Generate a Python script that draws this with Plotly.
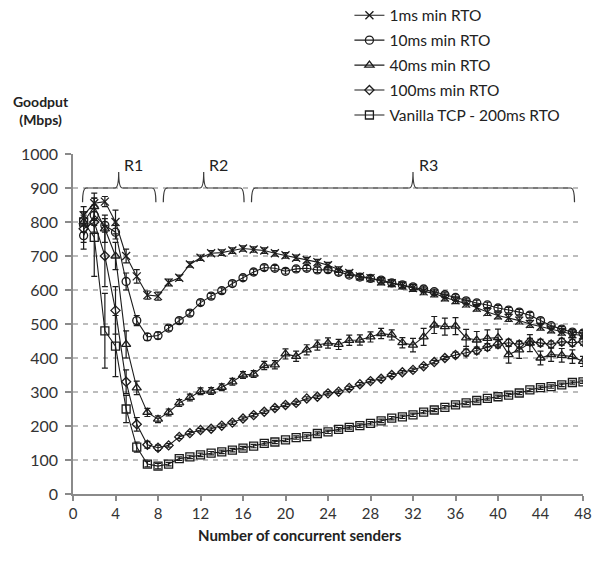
import plotly.graph_objects as go

senders = list(range(1, 49))

rto_1ms = [820, 855, 860, 800, 700, 640, 585, 582, 622, 636, 675, 695, 708, 710, 716, 722,
           719, 716, 708, 702, 695, 688, 682, 673, 660, 650, 640, 635, 625, 620, 613, 606,
           596, 590, 578, 570, 560, 548, 535, 525, 518, 510, 500, 492, 484, 477, 470, 466]
err_1ms = [25, 15, 15, 35, 20, 20, 12, 12, 10, 8, 8, 8, 8, 8, 8, 8,
           8, 8, 8, 8, 8, 8, 8, 8, 8, 8, 8, 8, 10, 10, 10, 10,
           10, 10, 10, 10, 10, 10, 10, 10, 10, 10, 10, 10, 10, 10, 10, 10]

rto_10ms = [760, 820, 790, 770, 625, 510, 462, 466, 488, 510, 532, 563, 582, 598, 619, 636,
            653, 666, 664, 655, 662, 664, 659, 660, 652, 644, 638, 634, 629, 621, 615, 609,
            603, 595, 586, 578, 568, 562, 556, 547, 541, 535, 526, 510, 495, 485, 476, 473]
err_10ms = [40, 30, 20, 20, 25, 15, 10, 10, 8, 8, 8, 8, 8, 8, 8, 8,
            8, 8, 8, 8, 8, 8, 8, 8, 8, 8, 8, 8, 8, 8, 8, 8,
            8, 8, 8, 8, 8, 8, 8, 8, 8, 8, 8, 8, 8, 8, 8, 8]

rto_40ms = [800, 845, 780, 700, 440, 312, 240, 220, 240, 268, 284, 302, 303, 314, 330, 350,
            353, 378, 380, 412, 405, 424, 438, 444, 440, 452, 453, 462, 472, 468, 445, 438,
            462, 497, 492, 494, 459, 453, 458, 460, 410, 424, 444, 400, 410, 408, 404, 390]
err_40ms = [30, 40, 40, 40, 40, 20, 12, 10, 10, 10, 10, 10, 10, 10, 10, 10,
            10, 12, 12, 15, 15, 15, 15, 15, 15, 15, 15, 15, 15, 15, 15, 20,
            25, 25, 25, 25, 25, 25, 25, 25, 25, 25, 25, 20, 20, 20, 20, 15]

rto_100ms = [780, 800, 700, 540, 330, 205, 145, 136, 143, 168, 179, 188, 192, 201, 210, 222,
             232, 242, 253, 262, 268, 281, 286, 296, 301, 312, 323, 332, 339, 350, 358, 365,
             376, 388, 400, 409, 416, 422, 432, 440, 445, 440, 448, 445, 440, 448, 445, 448]
err_100ms = [40, 30, 90, 70, 35, 20, 10, 8, 5, 5, 5, 5, 5, 5, 5, 5,
             5, 5, 5, 5, 5, 5, 5, 5, 5, 5, 5, 5, 5, 5, 5, 5,
             5, 5, 5, 8, 10, 10, 10, 10, 10, 10, 10, 10, 10, 10, 10, 10]

vanilla = [800, 755, 480, 435, 250, 138, 88, 82, 88, 104, 109, 115, 120, 124, 129, 135,
           141, 149, 153, 159, 166, 169, 178, 183, 190, 196, 201, 208, 215, 223, 227, 233,
           241, 247, 255, 262, 268, 275, 281, 286, 291, 297, 306, 313, 316, 321, 328, 330]
err_vanilla = [30, 115, 110, 90, 40, 15, 8, 8, 5, 5, 5, 5, 5, 5, 5, 5,
               5, 5, 5, 5, 5, 5, 5, 5, 5, 5, 5, 5, 5, 5, 5, 5,
               5, 5, 5, 5, 5, 5, 5, 5, 5, 5, 5, 5, 5, 5, 5, 5]

series_names = ["1ms min RTO", "10ms min RTO", "40ms min RTO", "100ms min RTO",
                "Vanilla TCP - 200ms RTO"]
series_values = [rto_1ms, rto_10ms, rto_40ms, rto_100ms, vanilla]
series_errors = [err_1ms, err_10ms, err_40ms, err_100ms, err_vanilla]
symbols = ["x-thin-open", "circle-open", "triangle-up-open", "diamond-open", "square-open"]
sizes = [8, 8, 8, 7, 8]

grid_values = [100, 200, 300, 400, 500, 600, 700, 800, 900]

# regions: (label, start, end, center)
regions = [("R1", 0.9, 7.8, 4.3), ("R2", 8.5, 16.1, 12.3), ("R3", 16.8, 47.2, 32.0)]
brace_top, brace_end, brace_tip, label_y = 900, 858, 947, 968

INK = "#1c1c1c"
FONT = "Lato"

fig = go.Figure()

for name, vals, errs, sym, sz in zip(series_names, series_values, series_errors, symbols, sizes):
    fig.add_trace(go.Scatter(
        x=senders, y=vals, name=name, mode="lines+markers",
        line=dict(color=INK, width=1.1),
        marker=dict(symbol=sym, size=sz, color=INK, line=dict(color=INK, width=1.3)),
        error_y=dict(type="data", array=errs, visible=True, color=INK, thickness=1.2, width=3),
        legendgroup=name,
    ))

shapes = []
for g in grid_values:
    shapes.append(dict(type="line", xref="x", yref="y", x0=0, x1=47.8, y0=g, y1=g,
                       line=dict(color="#a6a6a6", width=1.6, dash="5px,5px"), layer="below"))

annotations = []
for label, x0, x1, xc in regions:
    d = 0.35
    path = (f"M {x0},{brace_end} Q {x0},{brace_top} {x0 + d},{brace_top} "
            f"L {xc - d},{brace_top} Q {xc},{brace_top} {xc},{brace_tip} "
            f"Q {xc},{brace_top} {xc + d},{brace_top} "
            f"L {x1 - d},{brace_top} Q {x1},{brace_top} {x1},{brace_end}")
    shapes.append(dict(type="path", xref="x", yref="y", path=path,
                       line=dict(color="#3a3a3a", width=1.2)))
    annotations.append(dict(x=xc + 0.35, y=label_y, xref="x", yref="y", text=label,
                            showarrow=False, xanchor="left", yanchor="middle",
                            font=dict(family=FONT, size=16, color="#222")))

annotations.append(dict(x=-0.063, y=1.129, xref="paper", yref="paper",
                        text="<b>Goodput</b><br><b>(Mbps)</b>", showarrow=False,
                        xanchor="center", yanchor="middle", align="center",
                        font=dict(family=FONT, size=14, color="#222")))
annotations.append(dict(x=0.445, y=-0.12, xref="paper", yref="paper",
                        text="<b>Number of concurrent senders</b>", showarrow=False,
                        xanchor="center", yanchor="middle",
                        font=dict(family=FONT, size=15, color="#222")))

fig.update_layout(
    width=602, height=571,
    margin=dict(l=73, r=19, t=154, b=77, autoexpand=False),
    paper_bgcolor="white", plot_bgcolor="white",
    font=dict(family=FONT, color="#333"),
    shapes=shapes, annotations=annotations,
    showlegend=True,
    legend=dict(x=0.542, y=1.457, xanchor="left", yanchor="top",
                font=dict(family=FONT, size=15.5, color="#222"),
                bgcolor="rgba(0,0,0,0)", traceorder="grouped", tracegroupgap=1.8),
    xaxis=dict(range=[0, 48], tick0=0, dtick=4, showgrid=False, zeroline=False,
               showline=True, linecolor="#8a8a8a", linewidth=1.5,
               ticks="outside", ticklen=5, tickcolor="#8a8a8a", tickwidth=1.5,
               tickfont=dict(family=FONT, size=15, color="#333")),
    yaxis=dict(range=[0, 1000], tick0=0, dtick=100, showgrid=False, zeroline=False,
               showline=True, linecolor="#8a8a8a", linewidth=1.5,
               ticks="outside", ticklen=6, tickcolor="#8a8a8a", tickwidth=1.5,
               ticklabelstandoff=4,
               tickfont=dict(family=FONT, size=16, color="#333")),
)

fig.write_html("out.html")
